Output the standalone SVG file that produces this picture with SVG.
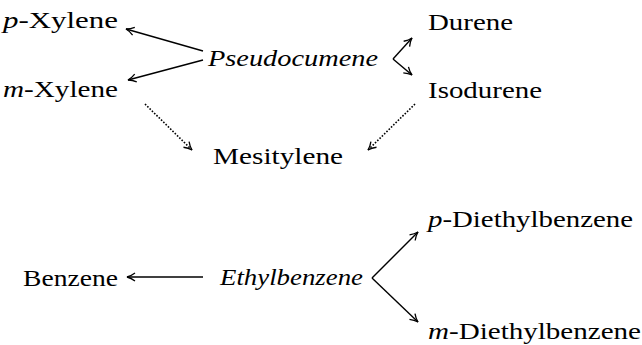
<svg xmlns="http://www.w3.org/2000/svg" width="642" height="345" viewBox="0 0 642 345">
<style>
text{font-family:"Liberation Serif","DejaVu Serif",serif;font-size:23px;fill:#000}
.i{font-style:italic}
.c{stroke:#000;stroke-width:1.4;fill:none;marker-end:url(#ah)}
.d{stroke-dasharray:1.6 1.6;stroke-width:1.6}
</style>
<defs>
<marker id="ah" markerUnits="userSpaceOnUse" viewBox="0 0 10 10" refX="9" refY="5" markerWidth="10" markerHeight="10" orient="auto">
<path d="M1,1 Q5,4 9,5 Q5,6 1,9" stroke="#000" stroke-width="1.3" fill="none"/>
</marker>
</defs>
<g id="pxylene"><text x="3" y="28" textLength="115" lengthAdjust="spacingAndGlyphs"><tspan class="i">p</tspan>-Xylene</text></g>
<g id="mxylene"><text x="3" y="97" textLength="115" lengthAdjust="spacingAndGlyphs"><tspan class="i">m</tspan>-Xylene</text></g>
<g id="pseudocumene"><text class="i" x="208" y="66" textLength="170" lengthAdjust="spacingAndGlyphs">Pseudocumene</text></g>
<g id="durene"><text x="428" y="30" textLength="85" lengthAdjust="spacingAndGlyphs">Durene</text></g>
<g id="isodurene"><text x="428" y="98" textLength="114" lengthAdjust="spacingAndGlyphs">Isodurene</text></g>
<g id="mesitylene"><text x="213" y="164" textLength="130" lengthAdjust="spacingAndGlyphs">Mesitylene</text></g>
<g id="benzene"><text x="23" y="286" textLength="95" lengthAdjust="spacingAndGlyphs">Benzene</text></g>
<g id="ethylbenzene"><text class="i" x="220" y="285" textLength="143" lengthAdjust="spacingAndGlyphs">Ethylbenzene</text></g>
<g id="pdiethylbenzene"><text x="428" y="227" textLength="205" lengthAdjust="spacingAndGlyphs"><tspan class="i">p</tspan>-Diethylbenzene</text></g>
<g id="mdiethylbenzene"><text x="428" y="339" textLength="213" lengthAdjust="spacingAndGlyphs"><tspan class="i">m</tspan>-Diethylbenzene</text></g>
<g id="connectors">
<path class="c" d="M203,51 L126,29"/>
<path class="c" d="M203,60 L128,80"/>
<path class="c" d="M393,59 L412,38"/>
<path class="c" d="M393,59 L412,75"/>
<path class="c d" d="M145,104 L192,150"/>
<path class="c d" d="M415,104 L368,150"/>
<path class="c" d="M203,277 L127,277"/>
<path class="c" d="M372,278 L418,232"/>
<path class="c" d="M372,278 L418,322"/>
</g>
</svg>
